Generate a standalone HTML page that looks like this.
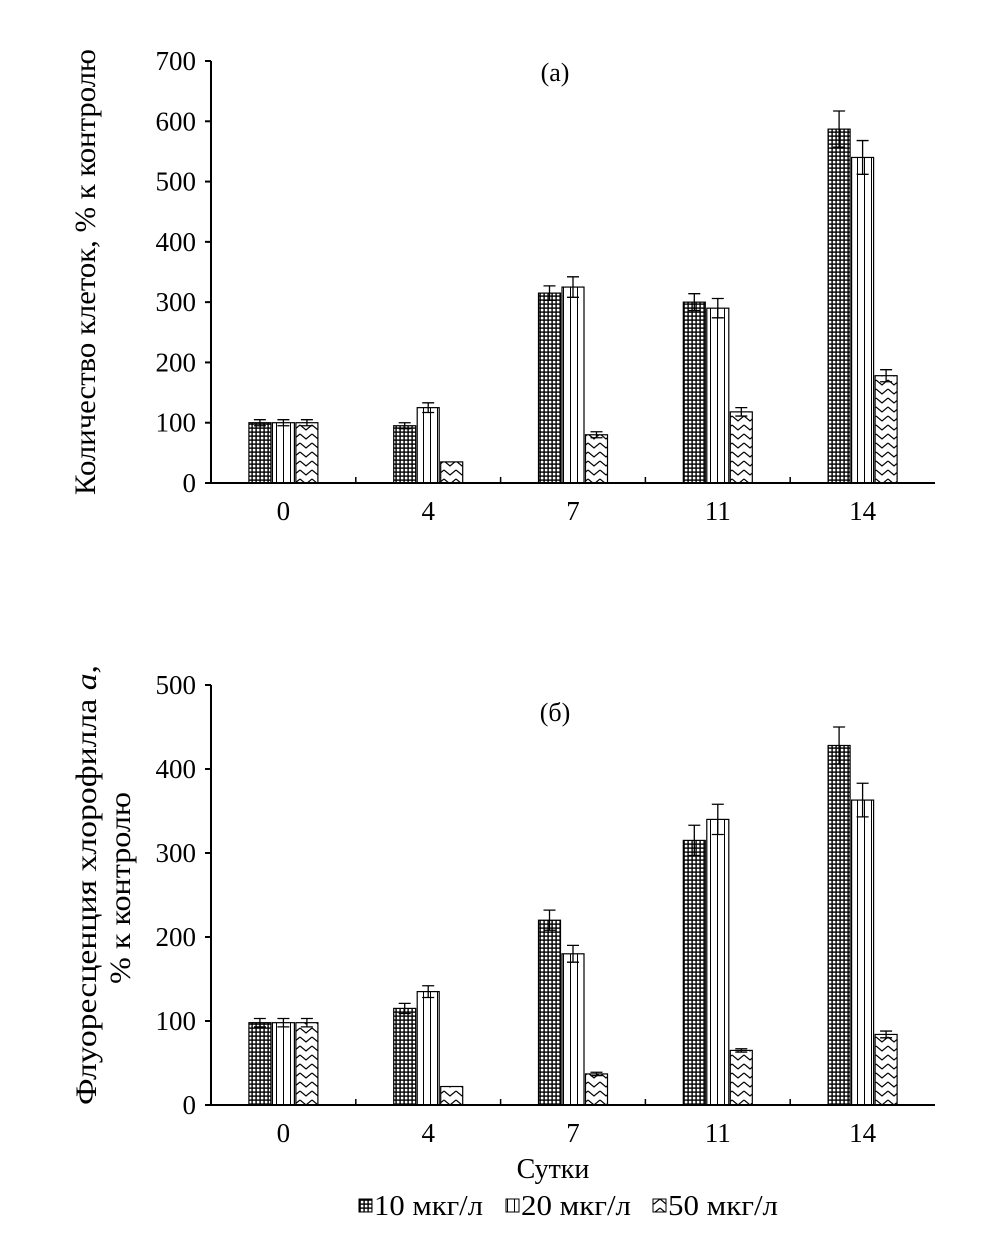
<!DOCTYPE html>
<html><head><meta charset="utf-8"><style>body{margin:0;background:#fff}svg{display:block}text{font-family:"Liberation Serif",serif;fill:#000}</style></head>
<body>
<svg id="s" width="1004" height="1246" xmlns="http://www.w3.org/2000/svg">
<defs>
<pattern id="p1" width="4" height="4" patternUnits="userSpaceOnUse"><rect width="4" height="4" fill="#000"/><rect x="0.8" y="0.8" width="2.6" height="2.6" fill="#fff"/></pattern>
<pattern id="p2" width="7" height="10" patternUnits="userSpaceOnUse"><rect width="7" height="10" fill="#fff"/><line x1="3.5" y1="0" x2="3.5" y2="10" stroke="#000" stroke-width="1"/></pattern>
<pattern id="p3" width="12" height="9" patternUnits="userSpaceOnUse"><rect width="12" height="9" fill="#fff"/><polyline points="0,2 6,7 12,2" fill="none" stroke="#000" stroke-width="1.2"/></pattern>
</defs>
<g id="ga"></g>
<g id="gb"></g>
<text x="95" y="272" font-size="30" text-anchor="middle" textLength="446" lengthAdjust="spacingAndGlyphs" transform="rotate(-90 95 272)">Количество клеток, % к контролю</text>
<text x="96" y="885" font-size="30" text-anchor="middle" textLength="440" lengthAdjust="spacingAndGlyphs" transform="rotate(-90 96 885)">Флуоресценция хлорофилла <tspan font-style="italic">a</tspan>,</text>
<text x="130" y="888" font-size="30" text-anchor="middle" textLength="192" lengthAdjust="spacingAndGlyphs" transform="rotate(-90 130 888)">% к контролю</text>
<text x="555" y="81" font-size="26" text-anchor="middle">(а)</text>
<text x="555" y="721" font-size="26" text-anchor="middle">(б)</text>
<text x="553" y="1178" font-size="28" text-anchor="middle">Сутки</text>
<g>
<rect x="359" y="1199" width="13" height="13" fill="url(#p1)" stroke="#000"/>
<text x="374" y="1215" font-size="28" textLength="109" lengthAdjust="spacingAndGlyphs">10 мкг/л</text>
<rect x="506" y="1199" width="13" height="13" fill="url(#p2)" stroke="#000"/>
<text x="521" y="1215" font-size="28" textLength="110" lengthAdjust="spacingAndGlyphs">20 мкг/л</text>
<rect x="653" y="1199" width="13" height="13" fill="url(#p3)" stroke="#000"/>
<text x="668" y="1215" font-size="28" textLength="110" lengthAdjust="spacingAndGlyphs">50 мкг/л</text>
</g>
</svg>
<script>
const categories = ["0","4","7","11","14"];
const a10 = [100,95,315,300,587], a20 = [100,125,325,290,540], a50 = [100,35,80,118,178];
const aErr10 = [5,5,12,14,30], aErr20 = [5,8,17,16,28], aErr50 = [5,0,5,7,10];
const b10 = [98,115,220,315,428], b20 = [98,135,180,340,363], b50 = [98,22,37,65,84];
const bErr10 = [5,6,12,18,22], bErr20 = [5,7,10,18,20], bErr50 = [5,0,2,2,4];
const aTicks = [0,100,200,300,400,500,600,700];
const bTicks = [0,100,200,300,400,500];
const NS = "http://www.w3.org/2000/svg";
function mk(p, tag, at){const e=document.createElementNS(NS,tag);for(const k in at)e.setAttribute(k,at[k]);p.appendChild(e);return e;}
function draw(g, y0, yTop, max, ticks, series, errs, tag){
  const x0=211, x1=935, cw=(x1-x0)/categories.length;
  const y=v=>y0-(v/max)*(y0-yTop);
  const xc=i=>x0+cw*(i+0.5);
  const fills=["url(#p1)","url(#p2)","url(#p3)"];
  const bw=22, gap=1.5;
  series.forEach((s,k)=>{s.forEach((v,i)=>{
    const bx=xc(i)+(k-1)*(bw+gap)-bw/2;
    const r=mk(g,"rect",{x:bx,y:y(v),width:bw,height:y0-y(v),fill:fills[k],stroke:"#000","stroke-width":1.2});
    
    
    const e=errs[k][i], cx=bx+bw/2;
    if(e>0){
      const eb=mk(g,"path",{d:`M${cx},${y(v+e)}V${y(v-e)}M${cx-6},${y(v+e)}H${cx+6}M${cx-6},${y(v-e)}H${cx+6}`,stroke:"#000","stroke-width":1.3,fill:"none"});
      
      
    }
  });});
  const ax=mk(g,"path",{d:`M${x0},${yTop}V${y0}H${x1}`,stroke:"#000","stroke-width":2,fill:"none"});
  
  
  ticks.forEach(t=>{
    const tl=mk(g,"line",{x1:x0-6,x2:x0,y1:y(t),y2:y(t),stroke:"#000","stroke-width":2});
    
    
    const tx=mk(g,"text",{x:x0-15,y:y(t)+9,"font-size":27,"text-anchor":"end"});tx.textContent=t;
    
    
  });
  categories.forEach((c,i)=>{
    if(i>0){const tk=mk(g,"line",{x1:x0+cw*i,x2:x0+cw*i,y1:y0-6,y2:y0,stroke:"#000","stroke-width":1.5});
    
    }
    const tx=mk(g,"text",{x:xc(i),y:y0+37,"font-size":27,"text-anchor":"middle"});tx.textContent=c;
    
    
  });
}
draw(document.getElementById('ga'),483,61,700,aTicks,[a10,a20,a50],[aErr10,aErr20,aErr50],'a');
draw(document.getElementById('gb'),1105,685,500,bTicks,[b10,b20,b50],[bErr10,bErr20,bErr50],'b');
</script>
</body></html>
